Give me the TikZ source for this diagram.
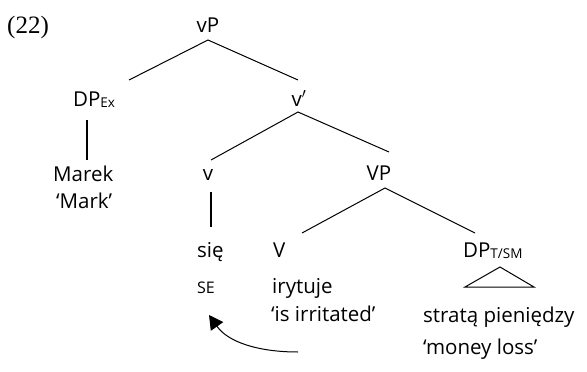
\documentclass[tikz,border=0pt]{standalone}
\usepackage{fontspec}
\setmainfont{Open Sans}
\newfontfamily\numfont{Liberation Serif}
\usetikzlibrary{arrows.meta}
\newcommand{\lsub}[1]{{\fontsize{13.5}{13.5}\selectfont\raisebox{-1pt}{#1}}}
\tikzset{
  lbl/.style={anchor=base west, inner sep=0pt, font=\fontsize{20.5}{20.5}\selectfont},
  lblc/.style={lbl, anchor=base},
  branch/.style={line width=1pt},
  stem/.style={line width=1.4pt},
  move/.style={line width=1pt, -{Triangle[width=15pt,length=14pt]}}
}
\begin{document}
\begin{tikzpicture}[x=1pt,y=-1pt]
\useasboundingbox (0,0) rectangle (587,372);
% example number
\node[lbl, font=\numfont\fontsize{25}{25}\selectfont] (num) at (7,33) {(22)};
% tree labels
\node[lblc] (vP) at (208,32) {vP};
\node[lbl] (DPex) at (73,106) {DP\lsub{Ex}};
\node[lblc] (vbar) at (299,106) {v$'$};
\node[lbl] (marek) at (53,181) {Marek};
\node[lbl] (mark) at (56,208) {‘Mark’};
\node[lblc] (v) at (208,180) {v};
\node[lblc] (VP) at (379,180) {VP};
\node[lbl] (sie) at (197,257) {się};
\node[lbl] (V) at (273,257) {V};
\node[lbl] (DPtsm) at (463,257) {DP\lsub{T/SM}};
\node[lbl, font=\fontsize{16}{16}\selectfont] (se) at (197,293) {SE};
\node[lbl] (irytuje) at (272,293) {irytuje};
\node[lbl] (gloss1) at (271,321) {‘is irritated’};
\node[lbl] (strata) at (423,322) {stratą pieniędzy};
\node[lbl] (gloss2) at (423,354) {‘money loss’};
% branch end points
\coordinate (vPb) at (208,40);
\coordinate (DPext) at (129,80);
\coordinate (vbart) at (298,80);
\coordinate (DPexb) at (87,120);
\coordinate (marekt) at (87,160);
\coordinate (vbarb) at (298,112);
\coordinate (vt) at (211,160);
\coordinate (VPt) at (389,152);
\coordinate (vb) at (211,192);
\coordinate (siet) at (211,227);
\coordinate (VPb) at (385,188);
\coordinate (Vt) at (302,233);
\coordinate (DPtsmt) at (475,233);
% branches
\draw[branch] (DPext) -- (vPb) -- (vbart);
\draw[stem] (DPexb) -- (marekt);
\draw[branch] (vt) -- (vbarb) -- (VPt);
\draw[stem] (vb) -- (siet);
\draw[branch] (Vt) -- (VPb) -- (DPtsmt);
% triangle over the phrase
\coordinate (triA) at (500,267);
\coordinate (triL) at (465,287);
\coordinate (triR) at (534,287);
\draw[branch, line join=miter] (triA) -- (triL) -- (triR) -- cycle;
% movement arrow
\coordinate (mvs) at (298,352);
\coordinate (mve) at (209,315);
\draw[move] (mvs) .. controls (258,352) and (228,342) .. (mve);
\end{tikzpicture}
\end{document}
